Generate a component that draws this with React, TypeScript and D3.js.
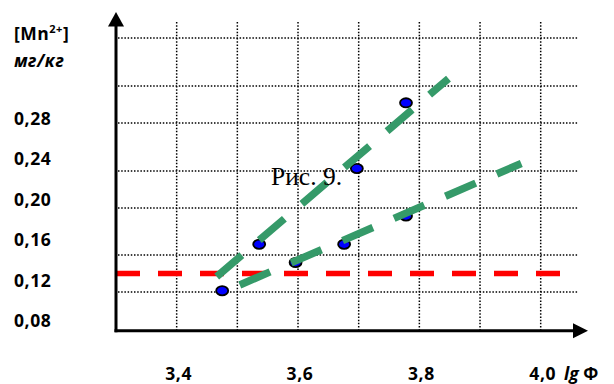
import React from "react";
import * as d3 from "d3";

// readings
const xTicks = [3.4, 3.6, 3.8, 4.0];
const xTickLabels = ["3,4", "3,6", "3,8", "4,0"];
const yTicks = [0.08, 0.12, 0.16, 0.2, 0.24, 0.28];
const yTickLabels = ["0,08", "0,12", "0,16", "0,20", "0,24", "0,28"];
const xGrid = [3.4, 3.5, 3.6, 3.7, 3.8, 3.9, 4.0];
const yGrid = [0.1077, 0.1444, 0.1909, 0.2275, 0.275, 0.3117, 0.3592];

const pointX = [3.475, 3.536, 3.596, 3.676, 3.697, 3.778, 3.778];
const pointY = [0.109, 0.155, 0.137, 0.155, 0.23, 0.295, 0.183];

// two trend lines, as [x0, y0, x1, y1]
const trendSteep = [3.466, 0.123, 3.848, 0.319];
const trendFlat = [3.504, 0.1147, 3.968, 0.235];
const limitValue = 0.126;

const W = 614;
const H = 384;

export default function App() {
  const x = d3.scaleLinear().domain([3.3, 4.0]).range([116, 540.7]);
  const y = d3.scaleLinear().domain([0.08, 0.28]).range([320, 118]);

  const x0 = 3.3;
  const xEnd = 4.078;
  const yTop = 0.385;
  const gridRight = 4.06;
  const gridTop = 0.375;

  const line = d3.line<[number, number]>().x((d) => x(d[0])).y((d) => y(d[1]));
  const seg = (t: number[]) => line([[t[0], t[1]], [t[2], t[3]]]) || "";

  const axisY = x(x0);
  const axisX = y(0.0693);
  const bold = { fontFamily: "'Open Sans', sans-serif", fontWeight: 700 };

  return (
    <svg width={W} height={H} style={{ position: "absolute", left: 0, top: 0, background: "#fff" }}>
      {/* grid */}
      <g stroke="#000" strokeWidth={1.5} strokeDasharray="1.5 1.7" fill="none">
        {xGrid.map((v) => (
          <line key={"gx" + v} x1={x(v)} x2={x(v)} y1={y(gridTop)} y2={axisX} />
        ))}
        {yGrid.map((v) => (
          <line key={"gy" + v} x1={axisY + 2} x2={x(gridRight)} y1={y(v)} y2={y(v)} />
        ))}
      </g>

      {/* limit line */}
      <line
        x1={axisY}
        x2={x(4.032)}
        y1={y(limitValue)}
        y2={y(limitValue)}
        stroke="#ff0000"
        strokeWidth={5.5}
        strokeDasharray="24 18"
      />

      {/* points */}
      {pointX.map((v, i) => (
        <ellipse
          key={"p" + i}
          cx={x(v)}
          cy={y(pointY[i])}
          rx={6}
          ry={4.6}
          fill="#0000ff"
          stroke="#000"
          strokeWidth={1.8}
        />
      ))}

      {/* trend lines */}
      <g stroke="#359a69" strokeWidth={7.5} strokeDasharray="33 23" fill="none">
        <path d={seg(trendSteep)} />
        <path d={seg(trendFlat)} />
      </g>

      {/* axes */}
      <line x1={axisY} x2={axisY} y1={axisX + 1.5} y2={y(yTop) + 12} stroke="#000" strokeWidth={3} />
      <path
        d={`M${axisY},${y(yTop)} L${axisY - 8},${y(yTop) + 14.5} L${axisY + 8},${y(yTop) + 14.5} Z`}
        fill="#000"
      />
      <line x1={axisY - 1.5} x2={x(xEnd) - 12} y1={axisX} y2={axisX} stroke="#000" strokeWidth={3} />
      <path
        d={`M${x(xEnd)},${axisX} L${x(xEnd) - 15},${axisX - 7.5} L${x(xEnd) - 15},${axisX + 7.5} Z`}
        fill="#000"
      />

      {/* tick labels */}
      <g {...bold} fontSize={17.5} letterSpacing={0.6} fill="#000">
        {yTicks.map((v, i) => (
          <text key={"yt" + v} x={14} y={y(v)} dominantBaseline="central">
            {yTickLabels[i]}
          </text>
        ))}
        {xTicks.map((v, i) => (
          <text key={"xt" + v} x={x(v) + 2} y={380} textAnchor="middle">
            {xTickLabels[i]}
          </text>
        ))}
      </g>

      {/* axis titles */}
      <text x={14} y={40} fontSize={17.5} letterSpacing={0.5} {...bold}>
        [Mn
        <tspan fontSize={11} dy={-7}>2+</tspan>
        <tspan dy={7}>]</tspan>
      </text>
      <text x={14} y={67} fontSize={17.5} letterSpacing={0.5} fontStyle="italic" {...bold}>
        мг/кг
      </text>
      <text x={564} y={380} fontSize={17.5} {...bold}>
        <tspan fontStyle="italic">lg</tspan> Φ
      </text>

      <text x={271} y={185} fontFamily="'Liberation Serif', 'Times New Roman', serif" fontSize={25.5}>
        Рис. 9.
      </text>
    </svg>
  );
}
